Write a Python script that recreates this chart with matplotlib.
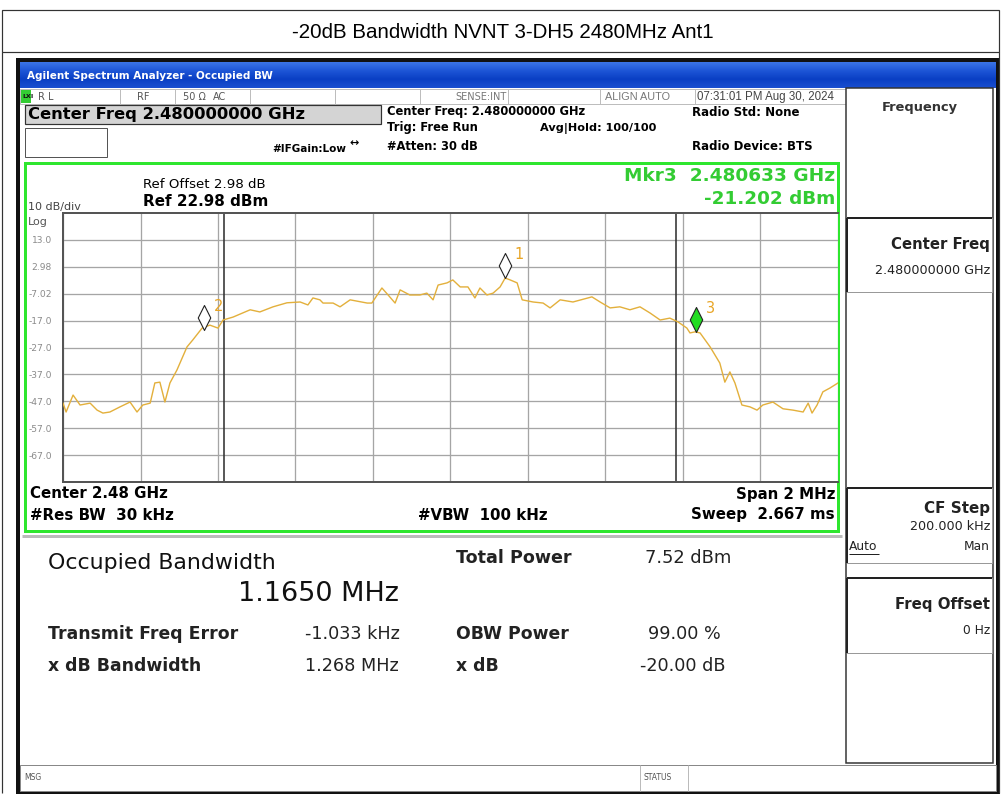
import matplotlib
matplotlib.use("Agg")
import matplotlib.pyplot as plt
import numpy as np
from matplotlib.patches import Rectangle
from matplotlib.path import Path
from matplotlib.colors import LinearSegmentedColormap

# ---------------- data ----------------
freq_offset_mhz = [-1.000, -0.992, -0.974, -0.956, -0.930, -0.912, -0.897, -0.879, -0.853, -0.827,
                   -0.809, -0.794, -0.775, -0.763, -0.750, -0.737, -0.724, -0.706, -0.680, -0.665,
                   -0.641, -0.634, -0.621, -0.600, -0.587, -0.561, -0.517, -0.492, -0.458, -0.422,
                   -0.388, -0.368, -0.355, -0.337, -0.329, -0.303, -0.285, -0.259, -0.215, -0.203,
                   -0.177, -0.161, -0.143, -0.130, -0.105, -0.079, -0.061, -0.045, -0.032, -0.009,
                   0.006, 0.025, 0.045, 0.063, 0.076, 0.094, 0.110, 0.128, 0.141, 0.154,
                   0.172, 0.185, 0.213, 0.239, 0.257, 0.283, 0.316, 0.365, 0.386, 0.412,
                   0.437, 0.463, 0.489, 0.515, 0.541, 0.566, 0.587, 0.610, 0.618, 0.631,
                   0.644, 0.670, 0.695, 0.708, 0.721, 0.734, 0.752, 0.773, 0.791, 0.806,
                   0.832, 0.858, 0.884, 0.910, 0.923, 0.933, 0.946, 0.961, 0.979, 1.000]
level_dbm = [-47.7, -51.0, -44.7, -48.4, -47.7, -50.3, -51.4, -51.0, -49.1, -47.3,
             -51.0, -48.4, -47.7, -40.2, -39.9, -47.3, -40.2, -35.4, -26.8, -24.2,
             -19.8, -19.4, -18.7, -19.8, -16.8, -15.7, -13.0, -13.8, -11.9, -10.4,
             -10.1, -11.2, -8.6, -9.3, -10.5, -10.5, -11.9, -9.3, -10.5, -10.5,
             -4.9, -7.5, -10.5, -5.6, -7.5, -7.5, -6.8, -9.3, -3.8, -3.0,
             -1.9, -4.5, -4.5, -8.6, -4.9, -7.5, -6.8, -4.5, -1.2, -1.9,
             -3.0, -9.3, -10.1, -10.5, -12.3, -9.3, -10.1, -8.2, -10.1, -12.3,
             -11.9, -13.0, -11.9, -14.2, -16.8, -16.1, -17.5, -19.8, -21.6, -21.2,
             -21.6, -26.8, -32.8, -39.9, -36.1, -40.2, -48.4, -49.1, -50.3, -48.4,
             -47.3, -49.8, -50.3, -51.0, -47.7, -51.4, -48.4, -43.5, -42.1, -40.2]

marker_names = ["1", "2", "3"]
marker_freq = [0.141, -0.635, 0.633]
marker_level = [-1.2, -20.4, -21.202]

ref_level = 22.98
db_per_div = 10
span_mhz = 2.0
obw_mhz = 1.165
freq_error_mhz = -0.001033
ytick_labels = ["13.0", "2.98", "-7.02", "-17.0", "-27.0", "-37.0", "-47.0", "-57.0", "-67.0"]

W, H = 1001, 794
fig = plt.figure(figsize=(W / 100, H / 100), dpi=100)
fig.patch.set_facecolor("white")
bg = fig.add_axes([0, 0, 1, 1])
bg.set_xlim(0, W)
bg.set_ylim(H, 0)
bg.axis("off")

FS = "Liberation Sans"
FD = "DejaVu Sans"


def px(v):
    return v * 0.72


def rect(x0, y0, x1, y1, fc="none", ec="none", lw=1, z=1):
    bg.add_patch(Rectangle((x0, y0), x1 - x0, y1 - y0, facecolor=fc, edgecolor=ec,
                           linewidth=px(lw), zorder=z))


def line(x0, y0, x1, y1, c="#808080", lw=1, z=2):
    bg.plot([x0, x1], [y0, y1], color=c, lw=px(lw), zorder=z, solid_capstyle="butt")


def txt(x, y, s, size, weight="normal", color="black", ha="left", family=FD, z=5, **kw):
    bg.text(x, y, s, fontsize=size, fontweight=weight, color=color, ha=ha, va="center",
            family=family, zorder=z, **kw)


# outer title box
rect(2, 10, 999, 52, fc="white", ec="#333333", lw=1.2)
line(2, 52, 2, 793, c="#333333", lw=1.2)
line(999, 52, 999, 793, c="#333333", lw=1.2)
txt(503, 32, "-20dB Bandwidth NVNT 3-DH5 2480MHz Ant1", 14.8, ha="center", family=FS)

# screenshot frame
rect(18, 60, 998, 793, fc="white", ec="#111111", lw=4, z=1)
grad = np.linspace(0, 1, 40).reshape(-1, 1)
cm = LinearSegmentedColormap.from_list("xp", ["#3b74e6", "#1d55d6", "#0a3fc4", "#1a4fd0"])
bg.imshow(grad, extent=(20, 996, 88, 62), aspect="auto", cmap=cm, zorder=2)
txt(27, 76, "Agilent Spectrum Analyzer - Occupied BW", 7.5, "bold", "white")

# status row
rect(20, 89, 846, 104, fc="white", ec="#bdbdbd", lw=1, z=2)
for xs in [120, 175, 250, 335, 420, 508, 600, 695]:
    line(xs, 89, xs, 104, c="#bdbdbd", lw=1, z=3)
rect(21, 90, 31, 103, fc="#33cc33", ec="none", z=3)
txt(22, 97, "LXI", 4.5, "bold", "#111111")
txt(38, 97, "R L", 7, color="#555555")
txt(137, 97, "RF", 7, color="#555555")
txt(183, 97, "50 Ω", 7, color="#555555")
txt(213, 97, "AC", 7, color="#555555")
txt(455, 97, "SENSE:INT", 7, color="#777777")
txt(605, 97, "ALIGN AUTO", 7.8, color="#777777", family=FS)
txt(697, 97, "07:31:01 PM Aug 30, 2024", 8.3, color="#444444", family=FS)

# center freq box
rect(25, 105, 381, 124, fc="#d4d4d4", ec="#333333", lw=1.2, z=2)
txt(28, 115, "Center Freq 2.480000000 GHz", 11.8, "bold")
rect(25, 128, 107, 157, fc="white", ec="#555555", lw=1, z=2)
txt(272, 149, "#IFGain:Low", 7.5, "bold")
txt(349, 143, "↔", 8, "bold")
txt(387, 112, "Center Freq: 2.480000000 GHz", 8.3, "bold")
txt(387, 127, "Trig: Free Run", 8.3, "bold")
txt(387, 146, "#Atten: 30 dB", 8.3, "bold")
txt(540, 129, "Avg|Hold: 100/100", 8.1, "bold")
txt(692, 113, "Radio Std: None", 8.5, "bold")
txt(692, 147, "Radio Device: BTS", 8.5, "bold")

# green frame
rect(25, 163, 838, 531, fc="none", ec="#2ee62e", lw=3, z=6)
txt(143, 185, "Ref Offset 2.98 dB", 9.6)
txt(143, 202, "Ref 22.98 dBm", 10.9, "bold")
txt(28, 207, "10 dB/div", 8, color="#444444")
txt(28, 222, "Log", 8, color="#555555")
txt(835, 176, "Mkr3  2.480633 GHz", 13.3, "bold", "#33cc33", ha="right")
txt(835, 199, "-21.202 dBm", 13.2, "bold", "#33cc33", ha="right")

txt(30, 494, "Center 2.48 GHz", 10.8, "bold")
txt(30, 515, "#Res BW  30 kHz", 10.8, "bold")
txt(418, 515, "#VBW  100 kHz", 10.8, "bold")
txt(835, 494, "Span 2 MHz", 10.8, "bold", ha="right")
txt(835, 515, "Sweep  2.667 ms", 10.8, "bold", ha="right")

# measurement results
line(22, 536, 842, 536, c="#bbbbbb", lw=3)
txt(48, 563, "Occupied Bandwidth", 15.8, "normal", "#111111")
txt(238, 594, "1.1650 MHz", 19.5, "normal", "#111111")
txt(456, 558, "Total Power", 12.6, "bold", "#222222")
txt(645, 558, "7.52 dBm", 12.9, "normal", "#222222")
txt(48, 634, "Transmit Freq Error", 12.4, "bold", "#222222")
txt(305, 634, "-1.033 kHz", 12.7, "normal", "#222222")
txt(456, 634, "OBW Power", 12.4, "bold", "#222222")
txt(648, 634, "99.00 %", 12.7, "normal", "#222222")
txt(48, 666, "x dB Bandwidth", 12.4, "bold", "#222222")
txt(305, 666, "1.268 MHz", 12.7, "normal", "#222222")
txt(456, 666, "x dB", 12.4, "bold", "#222222")
txt(640, 666, "-20.00 dB", 12.7, "normal", "#222222")

# right softkey panel
rect(846, 88, 993, 763, fc="white", ec="#333333", lw=1.5, z=2)
txt(920, 108, "Frequency", 9.4, "bold", "#333333", ha="center")
for (y0, y1) in [(218, 292), (488, 563), (578, 653)]:
    rect(847, y0, 992, y1, fc="white", ec="#999999", lw=1, z=3)
    line(847, y0, 992, y0, c="#222222", lw=2, z=4)
    line(847, y0, 847, y1, c="#222222", lw=2, z=4)
txt(990, 244, "Center Freq", 10.7, "bold", "#222222", ha="right")
txt(990, 270, "2.480000000 GHz", 9.2, "normal", "#222222", ha="right")
txt(990, 508, "CF Step", 10.9, "bold", "#222222", ha="right")
txt(990, 527, "200.000 kHz", 9.2, "normal", "#222222", ha="right")
txt(849, 546, "Auto", 8.8, "normal", "#222222")
line(849, 554, 879, 554, c="#222222", lw=1, z=5)
txt(990, 546, "Man", 8.8, "normal", "#222222", ha="right")
txt(990, 605, "Freq Offset", 10.8, "bold", "#222222", ha="right")
txt(990, 631, "0 Hz", 8.8, "normal", "#222222", ha="right")

# bottom status bar
rect(20, 765, 996, 791, fc="white", ec="#888888", lw=1, z=2)
line(640, 765, 640, 791, c="#bbbbbb")
line(688, 765, 688, 791, c="#bbbbbb")
txt(24, 777, "MSG", 5.5, color="#555555")
txt(643, 777, "STATUS", 5.5, color="#555555")

# ---------------- spectrum plot ----------------
gx0, gx1, gy0, gy1 = 63, 838, 213, 482
ax = fig.add_axes([gx0 / W, 1 - gy1 / H, (gx1 - gx0) / W, (gy1 - gy0) / H])
ax.set_facecolor("white")
ax.set_xlim(-span_mhz / 2, span_mhz / 2)
bottom = ref_level - 10 * db_per_div
ax.set_ylim(bottom, ref_level)
ax.set_xticks(np.arange(-1.0, 1.001, 0.2))
yt = [ref_level - db_per_div * k for k in range(1, 10)]
ax.set_yticks(yt)
ax.set_yticklabels(ytick_labels, family=FD, fontsize=6.6, color="#8a8a8a")
ax.tick_params(axis="y", length=0, pad=8)
ax.tick_params(axis="x", length=0, labelbottom=False)
ax.grid(True, color="#a5a5a5", lw=px(1.3))
ax.set_axisbelow(True)
for s in ["left", "bottom", "top"]:
    ax.spines[s].set_color("#555555")
    ax.spines[s].set_linewidth(px(2))
ax.spines["right"].set_visible(False)

# OBW boundary lines
c = freq_error_mhz
ax.axvline(c - obw_mhz / 2, color="#333333", lw=px(1.6), zorder=2)
ax.axvline(c + obw_mhz / 2, color="#333333", lw=px(1.6), zorder=2)

ax.plot(freq_offset_mhz, level_dbm, color="#e3b03c", lw=px(1.4), zorder=3)

dia = Path([(0, 0), (0.5, 1), (0, 2), (-0.5, 1), (0, 0)],
           [Path.MOVETO, Path.LINETO, Path.LINETO, Path.LINETO, Path.CLOSEPOLY])
for name, fx, lv in zip(marker_names, marker_freq, marker_level):
    fc = "#22dd22" if name == "3" else "white"
    ax.plot([fx], [lv], marker=dia, markersize=36, markerfacecolor=fc,
            markeredgecolor="#222222", markeredgewidth=0.8, linestyle="none", zorder=5)
    ax.annotate(name, (fx, lv), xytext=(7, 17), textcoords="offset points",
                color="#e8a526", fontsize=10.5, family=FD, ha="left", va="center", zorder=6)

fig.savefig("out.png", dpi=100, facecolor="white")
